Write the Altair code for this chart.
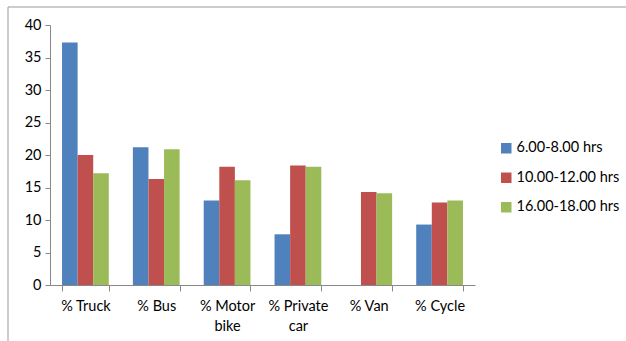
import altair as alt
import pandas as pd

categories = ["% Truck", "% Bus", "% Motor bike", "% Private car", "% Van", "% Cycle"]
series = ["6.00-8.00 hrs", "10.00-12.00 hrs", "16.00-18.00 hrs"]
s1 = [37.3, 21.2, 13.0, 7.8, 0.0, 9.3]
s2 = [20.0, 16.3, 18.2, 18.4, 14.3, 12.7]
s3 = [17.2, 20.9, 16.1, 18.2, 14.1, 13.0]
colors = ["#4F81BD", "#C0504D", "#9BBB59"]

rows = []
for name, vals in zip(series, [s1, s2, s3]):
    for c, v in zip(categories, vals):
        rows.append({"cat": c, "series": name, "value": v})
df = pd.DataFrame(rows)

FONT = "Lato"

bars = alt.Chart(df).mark_bar().encode(
    x=alt.X("cat:N", sort=categories, title=None,
            scale=alt.Scale(paddingInner=0.34, paddingOuter=0.17),
            axis=alt.Axis(labelAngle=0, tickBand="extent", domainColor="#888888",
                          tickColor="#888888", tickSize=6, labelPadding=8,
                          labelFontSize=14.5, labelColor="#000000", labelFont=FONT,
                          labelLineHeight=20, labelBaseline="top",
                          labelExpr="datum.label == '% Motor bike' ? ['% Motor', 'bike'] : datum.label == '% Private car' ? ['% Private', 'car'] : datum.label")),
    xOffset=alt.XOffset("series:N", sort=series, scale=alt.Scale(paddingInner=0, paddingOuter=0)),
    y=alt.Y("value:Q", title=None,
            scale=alt.Scale(domain=[0, 40]),
            axis=alt.Axis(values=[0, 5, 10, 15, 20, 25, 30, 35, 40], grid=False,
                          domainColor="#888888", tickColor="#888888", tickSize=5,
                          labelPadding=4, labelFontSize=14.5, labelColor="#000000",
                          labelFont=FONT)),
    color=alt.Color("series:N", sort=series,
                    scale=alt.Scale(domain=series, range=colors),
                    legend=alt.Legend(title=None, orient="none", legendX=449, legendY=116,
                                      symbolType="square", symbolSize=110,
                                      symbolStrokeWidth=0, labelFontSize=14.5,
                                      labelFont=FONT, labelColor="#000000",
                                      rowPadding=14.5, labelOffset=3)),
)

frame = alt.Chart(pd.DataFrame({"a": [0]})).mark_rect(
    fill=None, stroke="#999999", strokeWidth=1
).encode(x=alt.value(-42), y=alt.value(-18), x2=alt.value(700), y2=alt.value(400))

chart = alt.layer(frame, bars).properties(
    width=425, height=260,
    padding={"left": 50, "top": 25, "right": 151, "bottom": 56},
    autosize=alt.AutoSizeParams(type="none"),
    background="white",
).configure_view(stroke=None)

chart.save("out.html", embed_options={"renderer": "svg", "actions": False})
